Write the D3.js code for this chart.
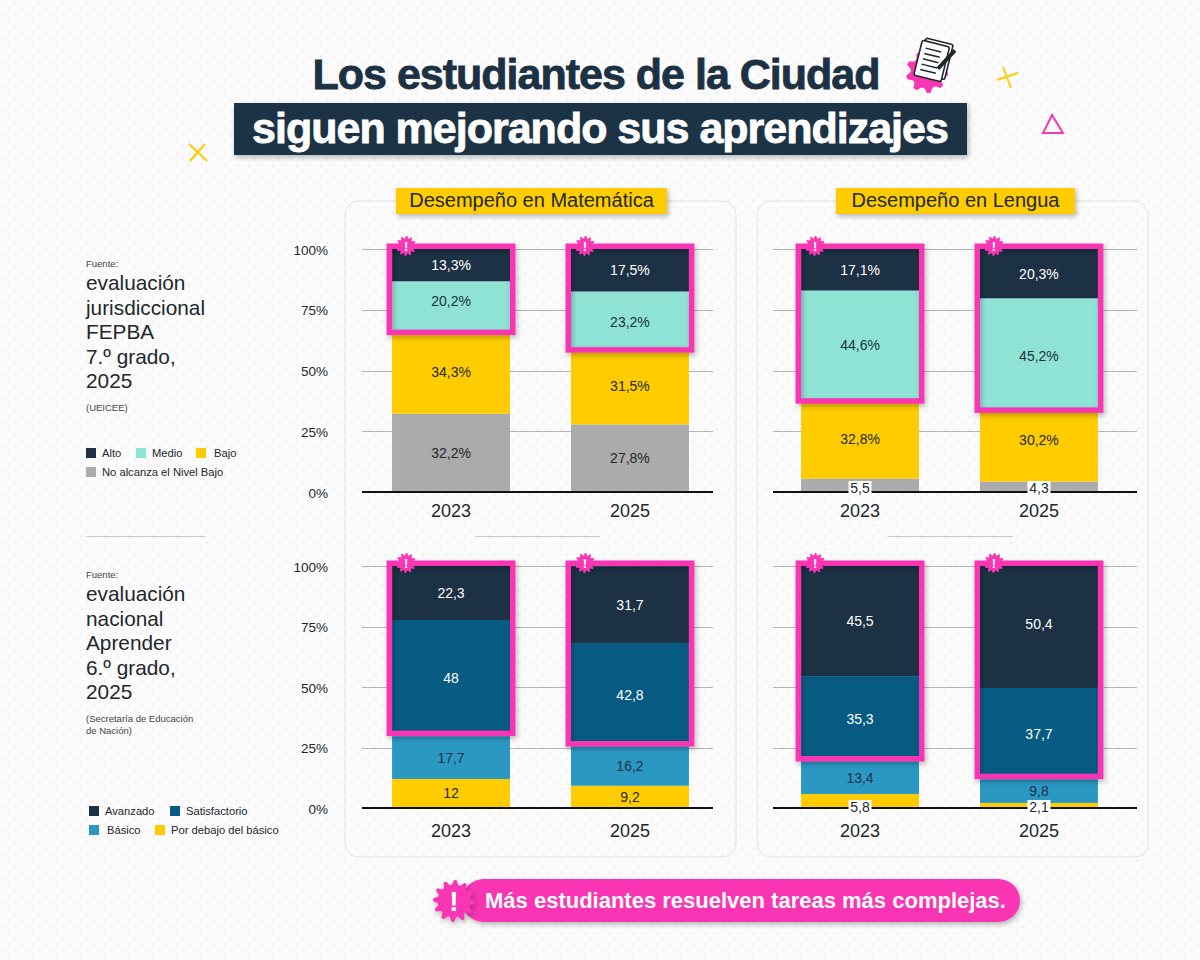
<!DOCTYPE html>
<html>
<head>
<meta charset="utf-8">
<script src="https://cdn.jsdelivr.net/npm/d3@7"></script>
<style>
  html, body { margin: 0; padding: 0; background: #fbfbfb; }
  svg { display: block; }
  text { font-family: "Liberation Sans", Arial, sans-serif; }
</style>
</head>
<body>
<div id="chart"></div>
<script>
const years = ["2023", "2025"];
const yTicks = [0, 25, 50, 75, 100];

// bottom to top
const levelsFepba = ["No alcanza el Nivel Bajo", "Bajo", "Medio", "Alto"];
const levelsAprender = ["Por debajo del básico", "Básico", "Satisfactorio", "Avanzado"];
const coloursFepba = ["#ababab", "#ffcc00", "#8fe3d4", "#1c3144"];
const coloursAprender = ["#ffcc00", "#2b98c4", "#075b82", "#1c3144"];

const matFepba2023 = [32.2, 34.3, 20.2, 13.3];
const matFepba2025 = [27.8, 31.5, 23.2, 17.5];
const lenFepba2023 = [5.5, 32.8, 44.6, 17.1];
const lenFepba2025 = [4.3, 30.2, 45.2, 20.3];
const matAprender2023 = [12, 17.7, 48, 22.3];
const matAprender2025 = [9.2, 16.2, 42.8, 31.7];
const lenAprender2023 = [5.8, 13.4, 35.3, 45.5];
const lenAprender2025 = [2.1, 9.8, 37.7, 50.4];

const fepbaLines = ["evaluación", "jurisdiccional", "FEPBA", "7.º grado,", "2025"];
const aprenderLines = ["evaluación", "nacional", "Aprender", "6.º grado,", "2025"];

const pink = "#f936b4";
const navy = "#1c3144";
const ink = "#22282c";

// labels that are not quite centred in their segment in the original
const labelNudge = { "20,2%": -5, "30,2%": -5, "45,2%": 3, "23,2%": 2, "50,4": -3 };

const svg = d3.select("#chart").append("svg").attr("width", 1200).attr("height", 960);
const defs = svg.append("defs");

let dots = defs.append("pattern").attr("id", "dots").attr("width", 12).attr("height", 12)
  .attr("patternUnits", "userSpaceOnUse");
dots.append("rect").attr("width", 12).attr("height", 12).attr("fill", "#fbfbfb");
dots.append("circle").attr("cx", 3).attr("cy", 3).attr("r", 1.6).attr("fill", "#f3f3f3");
dots.append("circle").attr("cx", 9).attr("cy", 9).attr("r", 1.6).attr("fill", "#f3f3f3");

defs.append("filter").attr("id", "shadow").attr("x", "-20%").attr("y", "-20%").attr("width", "140%").attr("height", "140%")
  .append("feDropShadow").attr("dx", 1.5).attr("dy", 2.5).attr("stdDeviation", 2.5)
  .attr("flood-color", "#000").attr("flood-opacity", 0.28);

svg.append("rect").attr("width", 1200).attr("height", 960).attr("fill", "url(#dots)");

// gear outline, teeth alternate between two radii
let gearPath = (cx, cy, r, teeth) => {
  let pts = [];
  for (let i = 0; i < teeth * 4; i++) {
    let a = i / (teeth * 4) * 2 * Math.PI;
    let rr = (i % 4 < 2) ? r : r * 0.78;
    pts.push([cx + rr * Math.cos(a), cy + rr * Math.sin(a)]);
  }
  return d3.line().curve(d3.curveLinearClosed)(pts);
};

let badge = (cx, cy, r, size) => {
  svg.append("path").attr("d", gearPath(cx, cy, r, 12)).attr("fill", pink);
  svg.append("text").attr("x", cx).attr("y", cy + size * 0.36).attr("text-anchor", "middle")
    .attr("font-size", size).attr("font-weight", 700).attr("fill", "#fff").text("!");
};

// title
svg.append("text").attr("x", 596).attr("y", 89).attr("text-anchor", "middle")
  .attr("font-size", 43).attr("font-weight", 700).attr("letter-spacing", -1)
  .attr("fill", navy).attr("stroke", navy).attr("stroke-width", 0.8)
  .text("Los estudiantes de la Ciudad");
svg.append("rect").attr("x", 234).attr("y", 103).attr("width", 733).attr("height", 52)
  .attr("fill", navy).attr("filter", "url(#shadow)");
svg.append("text").attr("x", 600).attr("y", 143).attr("text-anchor", "middle")
  .attr("font-size", 43).attr("font-weight", 700).attr("letter-spacing", -1)
  .attr("fill", "#fff").attr("stroke", "#fff").attr("stroke-width", 0.8)
  .text("siguen mejorando sus aprendizajes");

// title decoration
svg.append("path").attr("d", gearPath(927, 72, 21, 9)).attr("fill", pink);
let note = svg.append("g").attr("transform", "translate(936,60) rotate(14)");
note.append("rect").attr("x", -15).attr("y", -19).attr("width", 28).attr("height", 36).attr("rx", 2)
  .attr("fill", "#fff").attr("stroke", "#20272c").attr("stroke-width", 1.6);
note.append("rect").attr("x", -18).attr("y", -16).attr("width", 28).attr("height", 36).attr("rx", 2)
  .attr("fill", "#fff").attr("stroke", "#20272c").attr("stroke-width", 1.6);
d3.range(5).forEach(i => {
  note.append("line").attr("x1", -13).attr("x2", 3).attr("y1", -9 + i * 5.5).attr("y2", -9 + i * 5.5)
    .attr("stroke", "#20272c").attr("stroke-width", 1.5);
});
note.append("line").attr("x1", 16).attr("y1", -14).attr("x2", 4).attr("y2", 8)
  .attr("stroke", "#20272c").attr("stroke-width", 4);

let cross = (x1, y1, x2, y2, x3, y3, x4, y4) => {
  svg.append("path").attr("d", `M${x1},${y1}L${x2},${y2}M${x3},${y3}L${x4},${y4}`)
    .attr("stroke", "#ffcc00").attr("stroke-width", 2).attr("fill", "none");
};
cross(1003, 67, 1011, 88, 997, 80, 1018, 73);
cross(189, 144, 207, 161, 205, 144, 190, 161);
svg.append("path").attr("d", "M1052,115L1063,133L1043,133Z")
  .attr("stroke", pink).attr("stroke-width", 2).attr("fill", "none");

// panels
[[345, 391], [757, 391]].forEach(p => {
  svg.append("rect").attr("x", p[0]).attr("y", 201).attr("width", p[1]).attr("height", 656).attr("rx", 14)
    .attr("fill", "none").attr("stroke", "#e2e2e2").attr("stroke-width", 1);
});
[[86, 205], [475, 600], [888, 1013]].forEach(s => {
  svg.append("line").attr("x1", s[0]).attr("x2", s[1]).attr("y1", 536.5).attr("y2", 536.5)
    .attr("stroke", "#c9c9c9").attr("stroke-width", 1);
});

// subject tags
[["Desempeño en Matemática", 396, 271], ["Desempeño en Lengua", 836, 239]].forEach(t => {
  svg.append("rect").attr("x", t[1]).attr("y", 188).attr("width", t[2]).attr("height", 26)
    .attr("fill", "#ffcc00").attr("filter", "url(#shadow)");
  svg.append("text").attr("x", t[1] + t[2] / 2).attr("y", 207).attr("text-anchor", "middle")
    .attr("font-size", 20).attr("fill", ink).text(t[0]);
});

let drawChart = (opt) => {
  let y = d3.scaleLinear().domain([0, 100]).range([opt.y0, opt.y100]);
  let x = d3.scaleBand().domain(years).range(opt.xRange).paddingInner(0.341).paddingOuter(0.168);
  let table = years.map((yr, i) => {
    let row = { year: yr };
    opt.levels.forEach((l, j) => { row[l] = opt.values[i][j]; });
    return row;
  });
  let colour = d3.scaleOrdinal().domain(opt.levels).range(opt.colours);
  let series = d3.stack().keys(opt.levels)(table);

  // only the Matemática charts carry the percent labels
  if (opt.labelX) {
    let yAxis = d3.axisLeft(y).tickValues(yTicks).tickFormat(d => d + "%").tickSize(0).tickPadding(0);
    let yG = svg.append("g").attr("transform", `translate(${opt.labelX},0)`).call(yAxis);
    yG.select(".domain").remove();
    yG.selectAll("text").attr("font-size", 13.5).attr("fill", ink).attr("font-family", null).attr("dy", "0.6em")
      .attr("y", -3);
  }

  svg.append("g").selectAll("line").data(yTicks.filter(d => d > 0)).join("line")
    .attr("x1", opt.axisX[0]).attr("x2", opt.axisX[1])
    .attr("y1", d => Math.round(y(d)) + 0.5).attr("y2", d => Math.round(y(d)) + 0.5)
    .attr("stroke", "#b4b4b4").attr("stroke-width", 1);

  svg.append("g").selectAll("g").data(series).join("g")
    .attr("fill", d => colour(d.key))
    .selectAll("rect").data(d => d).join("rect")
    .attr("x", d => x(d.data.year))
    .attr("width", x.bandwidth())
    .attr("y", d => y(d[1]))
    .attr("height", d => y(d[0]) - y(d[1]));

  let xAxis = d3.axisBottom(x).tickSize(0).tickPadding(opt.yearPad);
  let xG = svg.append("g").attr("transform", `translate(0,${opt.y0})`).call(xAxis);
  xG.select(".domain").remove();
  xG.selectAll("text").attr("font-size", 18).attr("fill", ink).attr("font-family", null);
  svg.append("line").attr("x1", opt.axisX[0]).attr("x2", opt.axisX[1]).attr("y1", opt.y0).attr("y2", opt.y0)
    .attr("stroke", "#111").attr("stroke-width", 1.8);

  // pink frame around the two upper levels
  years.forEach((yr, i) => {
    let bottom = d3.sum(opt.values[i].slice(0, 2));
    svg.append("rect")
      .attr("x", x(yr) - 2.75)
      .attr("width", x.bandwidth() + 5.5)
      .attr("y", y(100) - 2.75)
      .attr("height", y(bottom) - y(100) + 2.75 + opt.frameDrop)
      .attr("fill", "none").attr("stroke", pink).attr("stroke-width", 5.5)
      .attr("filter", "url(#shadow)");
  });

  // value labels
  series.forEach(s => {
    s.forEach(d => {
      let val = d[1] - d[0];
      let small = val < 7;
      let txt = d3.format(".1f")(val).replace(".0", "").replace(".", ",") + (small ? "" : opt.suffix);
      let cx = x(d.data.year) + x.bandwidth() / 2;
      let cy = small ? opt.y0 - opt.smallLift : y((d[0] + d[1]) / 2) + (labelNudge[txt] || 0);
      if (small) {
        svg.append("rect").attr("x", cx - 11.5).attr("y", cy - 7).attr("width", 23).attr("height", 14).attr("fill", "#fff");
      }
      let c = colour(s.key);
      let fill = (c === navy || c === "#075b82") ? "#fff" : (c === "#8fe3d4" || c === "#2b98c4") ? navy : ink;
      svg.append("text").attr("x", cx).attr("y", cy + 5).attr("text-anchor", "middle")
        .attr("font-size", 14).attr("fill", fill).text(txt);
    });
  });

  years.forEach(yr => badge(x(yr) + 14, opt.y100 - 3, 10, 13));
};

const rowFepba = { y0: 492, y100: 249, levels: levelsFepba, colours: coloursFepba, suffix: "%", smallLift: 4, yearPad: 12, frameDrop: 2 };
const rowAprender = { y0: 808, y100: 566, levels: levelsAprender, colours: coloursAprender, suffix: "", smallLift: 1, yearPad: 16, frameDrop: -2.75 };
const colMat = { xRange: [362, 719], axisX: [362, 713], labelX: 328 };
const colLen = { xRange: [771, 1128], axisX: [773, 1137], labelX: 0 };

drawChart({ ...rowFepba, ...colMat, values: [matFepba2023, matFepba2025] });
drawChart({ ...rowFepba, ...colLen, values: [lenFepba2023, lenFepba2025] });
drawChart({ ...rowAprender, ...colMat, values: [matAprender2023, matAprender2025] });
drawChart({ ...rowAprender, ...colLen, values: [lenAprender2023, lenAprender2025] });

// left column
let sourceBlock = (top, lines, notes) => {
  svg.append("text").attr("x", 86).attr("y", top).attr("font-size", 9.5).attr("fill", "#444").text("Fuente:");
  lines.forEach((l, i) => {
    svg.append("text").attr("x", 86).attr("y", top + 23 + i * 24.5).attr("font-size", 20.8).attr("fill", ink).text(l);
  });
  notes.forEach((l, i) => {
    svg.append("text").attr("x", 86).attr("y", top + 144 + i * 12).attr("font-size", 9.5).attr("fill", "#444").text(l);
  });
};
sourceBlock(267, fepbaLines, ["(UEICEE)"]);
sourceBlock(578, aprenderLines, ["(Secretaría de Educación", "de Nación)"]);

let legendItem = (sx, tx, ly, label, fill) => {
  svg.append("rect").attr("x", sx).attr("y", ly - 5).attr("width", 10).attr("height", 10).attr("fill", fill);
  svg.append("text").attr("x", tx).attr("y", ly + 4).attr("font-size", 11.2).attr("fill", ink).text(label);
};
legendItem(86, 102, 453, levelsFepba[3], coloursFepba[3]);
legendItem(136, 152, 453, levelsFepba[2], coloursFepba[2]);
legendItem(196, 214, 453, levelsFepba[1], coloursFepba[1]);
legendItem(86, 102, 472, levelsFepba[0], coloursFepba[0]);
legendItem(89, 105, 811, levelsAprender[3], coloursAprender[3]);
legendItem(170, 186, 811, levelsAprender[2], coloursAprender[2]);
legendItem(89, 107, 830, levelsAprender[1], coloursAprender[1]);
legendItem(155, 171, 830, levelsAprender[0], coloursAprender[0]);

// bottom note
svg.append("rect").attr("x", 462).attr("y", 879).attr("width", 558).attr("height", 43).attr("rx", 21.5)
  .attr("fill", pink).attr("filter", "url(#shadow)");
svg.append("text").attr("x", 485).attr("y", 908).attr("font-size", 22).attr("font-weight", 700)
  .attr("fill", "#fff").text("Más estudiantes resuelven tareas más complejas.");
svg.append("g").attr("filter", "url(#shadow)")
  .append("path").attr("d", gearPath(454, 901, 21, 12)).attr("fill", pink);
svg.append("text").attr("x", 454).attr("y", 911).attr("text-anchor", "middle")
  .attr("font-size", 28).attr("font-weight", 700).attr("fill", "#fff").text("!");
</script>
</body>
</html>
